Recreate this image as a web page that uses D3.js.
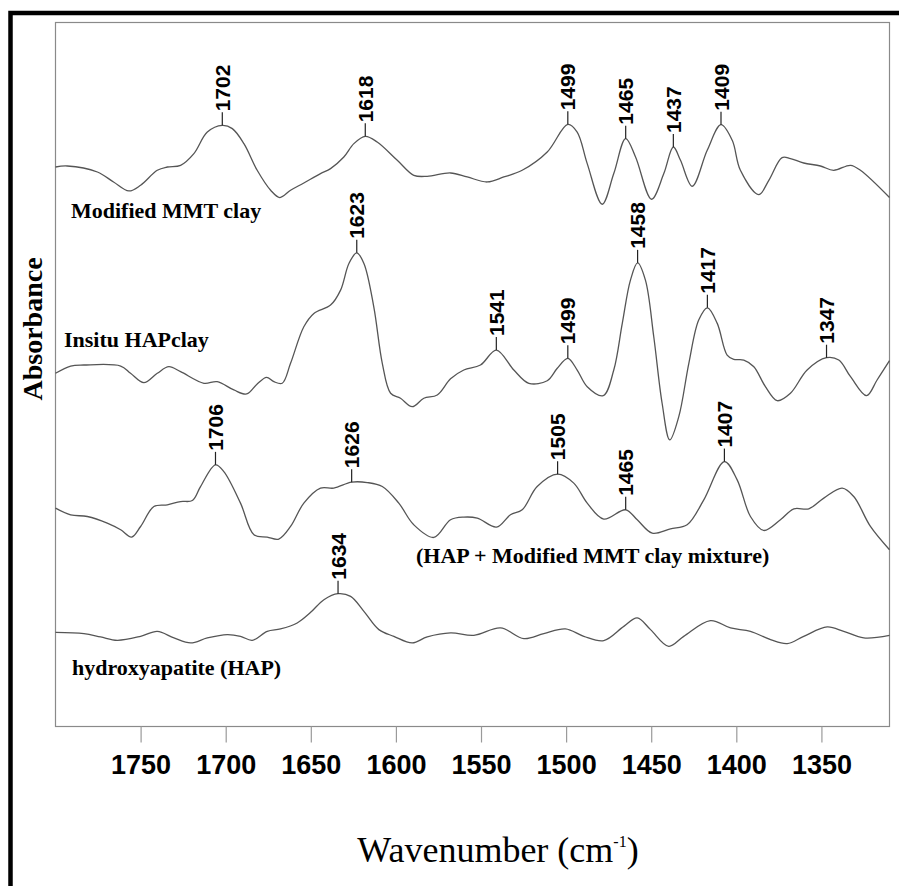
<!DOCTYPE html>
<html>
<head>
<meta charset="utf-8">
<script src="https://cdn.jsdelivr.net/npm/d3@7"></script>
<style>
  html, body { margin: 0; padding: 0; background: #fff; }
  svg { display: block; }
</style>
</head>
<body>
<svg id="chart" width="899" height="886"></svg>
<script>
// FTIR spectra (1800–1310 cm-1), stacked with vertical offsets, absorbance in arbitrary units.
// Each series: [wavenumber, absorbance]
const modifiedMMT = [
  [1800, 5.603], [1793.1, 5.613], [1775.4, 5.553], [1765.9, 5.453], [1756.9, 5.363], [1750, 5.42],
  [1740.2, 5.57], [1734.3, 5.603], [1726.5, 5.62], [1718.7, 5.737], [1710.8, 5.953], [1702, 6.02],
  [1696.1, 5.987], [1689.3, 5.837], [1681.5, 5.57], [1673.6, 5.37], [1668.2, 5.297], [1661.9, 5.37],
  [1654.1, 5.443], [1644.3, 5.537], [1638.4, 5.587], [1630.6, 5.703], [1624.7, 5.837], [1618, 5.91],
  [1611.0, 5.853], [1599.2, 5.67], [1589.5, 5.52], [1581.6, 5.51], [1567.9, 5.543], [1558.1, 5.503],
  [1546.3, 5.453], [1536.6, 5.503], [1525.8, 5.57], [1511.1, 5.753], [1499, 6.03], [1493.5, 5.953],
  [1487.6, 5.637], [1478.8, 5.23], [1472.0, 5.537], [1465, 5.887], [1459.2, 5.703], [1449.8, 5.28],
  [1442.6, 5.537], [1437, 5.803], [1432.8, 5.67], [1425.9, 5.41], [1417.1, 5.77], [1409, 6.027],
  [1402.4, 5.87], [1397.6, 5.57], [1386.8, 5.327], [1380.9, 5.47], [1373.1, 5.697], [1368.2, 5.687],
  [1360.4, 5.643], [1350.6, 5.613], [1342.8, 5.57], [1332.9, 5.62], [1327.1, 5.57], [1310, 5.297]
];
const insituHAPclay = [
  [1800, 3.537], [1791.1, 3.61], [1783.3, 3.62], [1761.7, 3.61], [1755.9, 3.537], [1748.1, 3.443],
  [1740.2, 3.537], [1733.4, 3.603], [1726.5, 3.553], [1712.8, 3.437], [1705.0, 3.453], [1695.2, 3.37],
  [1687.7, 3.33], [1681.5, 3.43], [1676.0, 3.497], [1671.7, 3.453], [1666.8, 3.437], [1661.9, 3.637],
  [1654.1, 4.003], [1648.2, 4.137], [1638.4, 4.22], [1632.5, 4.37], [1627.6, 4.637], [1623, 4.743],
  [1618.8, 4.637], [1613.0, 4.203], [1608.0, 3.637], [1603.1, 3.337], [1597.3, 3.287], [1590.4, 3.203],
  [1583.6, 3.287], [1575.7, 3.32], [1567.9, 3.482], [1560.1, 3.57], [1550.3, 3.62], [1541, 3.77],
  [1530.7, 3.57], [1521.9, 3.437], [1511.1, 3.463], [1505.2, 3.587], [1499, 3.687], [1493.5, 3.57],
  [1487.6, 3.403], [1478.2, 3.313], [1472.0, 3.57], [1467.0, 4.037], [1462.2, 4.47], [1458, 4.643],
  [1453.4, 4.47], [1448.5, 3.903], [1443.6, 3.237], [1439.1, 2.87], [1433.8, 3.103], [1427.9, 3.637],
  [1422.1, 4.07], [1417, 4.193], [1411.2, 4.037], [1405.4, 3.72], [1401.5, 3.677], [1395.6, 3.67],
  [1389.7, 3.603], [1382.9, 3.403], [1376.0, 3.263], [1368.2, 3.337], [1358.4, 3.57], [1347, 3.693],
  [1339.8, 3.67], [1332.9, 3.503], [1323.5, 3.313], [1317.3, 3.47], [1310, 3.663]
];
const hapMMTmixture = [
  [1800, 2.187], [1791.1, 2.12], [1781.3, 2.103], [1769.6, 2.037], [1761.7, 1.97], [1755.3, 1.897],
  [1750, 2.003], [1742.2, 2.203], [1734.3, 2.22], [1726.5, 2.253], [1719.6, 2.263], [1714.8, 2.403],
  [1706, 2.62], [1701.1, 2.553], [1691.3, 2.237], [1683.4, 1.92], [1675.6, 1.897], [1668.8, 1.877],
  [1661.9, 2.003], [1654.1, 2.237], [1644.3, 2.387], [1636.5, 2.387], [1626, 2.447], [1616.8, 2.443],
  [1608.0, 2.403], [1598.3, 2.237], [1589.5, 2.02], [1577.7, 1.893], [1567.9, 2.07], [1560.1, 2.097],
  [1552.2, 2.087], [1540.9, 1.997], [1532.7, 2.12], [1525.8, 2.17], [1517.0, 2.403], [1505, 2.527],
  [1495.5, 2.437], [1487.6, 2.237], [1477.9, 2.077], [1465, 2.17], [1458.2, 2.07], [1449.4, 1.937],
  [1438.7, 1.98], [1428.9, 2.02], [1419.1, 2.27], [1407, 2.653], [1399.5, 2.47], [1391.7, 2.103],
  [1383.9, 1.963], [1374.1, 2.07], [1366.2, 2.18], [1357.4, 2.18], [1348.6, 2.287], [1337.8, 2.387],
  [1331.0, 2.303], [1321.2, 2.003], [1310, 1.77]
];
const hydroxyapatite = [
  [1800, 0.943], [1783.3, 0.93], [1773.5, 0.897], [1763.7, 0.863], [1750, 0.903], [1740.2, 0.953],
  [1730.4, 0.887], [1720.6, 0.837], [1710.8, 0.887], [1699.1, 0.92], [1691.3, 0.903], [1684.4, 0.863],
  [1675.6, 0.953], [1667.8, 0.977], [1658.0, 1.037], [1650.1, 1.143], [1642.3, 1.27], [1634, 1.33],
  [1626.6, 1.303], [1618.8, 1.153], [1610.0, 0.97], [1601.2, 0.903], [1590.4, 0.837], [1581.6, 0.897],
  [1567.9, 0.937], [1554.2, 0.913], [1538.5, 0.987], [1524.8, 0.88], [1513.1, 0.93], [1500.4, 0.977],
  [1489.6, 0.903], [1477.9, 0.86], [1466.1, 1.003], [1458.2, 1.087], [1450.4, 0.97], [1439.7, 0.803],
  [1430.9, 0.903], [1415.2, 1.06], [1403.4, 0.987], [1391.7, 0.953], [1379.9, 0.87], [1370.1, 0.83],
  [1360.4, 0.903], [1346.6, 0.997], [1336.9, 0.953], [1325.1, 0.887], [1310, 0.913]
];

const seriesData = [modifiedMMT, insituHAPclay, hapMMTmixture, hydroxyapatite];
const seriesNames = ["Modified MMT clay", "Insitu HAPclay", "(HAP + Modified MMT clay mixture)", "hydroxyapatite (HAP)"];

// Marked band positions per series (cm-1)
const peaksMMT = [1702, 1618, 1499, 1465, 1437, 1409];
const peaksInsitu = [1623, 1541, 1499, 1458, 1417, 1347];
const peaksMixture = [1706, 1626, 1505, 1465, 1407];
const peaksHAP = [1634];
const seriesPeaks = [peaksMMT, peaksInsitu, peaksMixture, peaksHAP];

const xTicks = [1750, 1700, 1650, 1600, 1550, 1500, 1450, 1400, 1350];
const xDomain = [1800, 1310];
const yDomain = [0, 7.05];

// Layout
const plot = { left: 55.5, top: 22.5, right: 889.5, bottom: 726.5 };
const labelPos = [
  { x: 71, y: 218 },
  { x: 64, y: 347 },
  { x: 416, y: 563 },
  { x: 72, y: 675 }
];

const svg = d3.select("#chart");

// outer black frame (runs past the right and bottom edges)
svg.append("rect")
  .attr("x", 10.5).attr("y", 13)
  .attr("width", 1000).attr("height", 1000)
  .attr("fill", "none").attr("stroke", "#000").attr("stroke-width", 4.5);

const x = d3.scaleLinear().domain(xDomain).range([plot.left, plot.right]);
const y = d3.scaleLinear().domain(yDomain).range([plot.bottom, plot.top]);

// plot frame
svg.append("rect")
  .attr("x", plot.left).attr("y", plot.top)
  .attr("width", plot.right - plot.left).attr("height", plot.bottom - plot.top)
  .attr("fill", "none").attr("stroke", "#8a8a8a").attr("stroke-width", 1.2);

// x axis
const xAxis = d3.axisBottom(x).tickValues(xTicks).tickSize(16).tickPadding(12).tickFormat(d3.format("d"));
const gx = svg.append("g").attr("transform", `translate(0,${plot.bottom})`).call(xAxis);
gx.select(".domain").remove();
gx.selectAll(".tick line").attr("stroke", "#9a9a9a").attr("stroke-width", 1.2);
gx.selectAll(".tick text")
  .attr("font-family", "'Liberation Sans', Arial, sans-serif")
  .attr("font-weight", "bold").attr("font-size", 27).attr("fill", "#000");

// axis titles
const xt = svg.append("text")
  .attr("x", 498).attr("y", 862)
  .attr("text-anchor", "middle")
  .attr("font-family", "'Liberation Serif', 'Times New Roman', serif")
  .attr("font-size", 36).attr("fill", "#000");
xt.append("tspan").text("Wavenumber (cm");
xt.append("tspan").attr("dy", -15).attr("font-size", 16).text("-1");
xt.append("tspan").attr("dy", 15).text(")");

svg.append("text")
  .attr("transform", "translate(42,329) rotate(-90)")
  .attr("text-anchor", "middle")
  .attr("font-family", "'Liberation Serif', 'Times New Roman', serif")
  .attr("font-weight", "bold").attr("font-size", 28).attr("fill", "#000")
  .text("Absorbance");

// spectra
const line = d3.line()
  .x(d => x(d[0]))
  .y(d => y(d[1]))
  .curve(d3.curveCatmullRom.alpha(0.5));

svg.append("g").selectAll("path")
  .data(seriesData)
  .join("path")
  .attr("d", line)
  .attr("fill", "none")
  .attr("stroke", "#555")
  .attr("stroke-width", 1.3);

// series names
svg.append("g").selectAll("text")
  .data(seriesNames)
  .join("text")
  .attr("x", (d, i) => labelPos[i].x)
  .attr("y", (d, i) => labelPos[i].y)
  .attr("font-family", "'Liberation Serif', 'Times New Roman', serif")
  .attr("font-weight", "bold").attr("font-size", 22).attr("fill", "#000")
  .text(d => d);

// band markers
const markers = [];
seriesPeaks.forEach((peaks, i) => {
  peaks.forEach(p => {
    const pt = seriesData[i].find(d => d[0] === p);
    markers.push({ w: p, v: pt[1] });
  });
});
const mg = svg.append("g").selectAll("g")
  .data(markers)
  .join("g")
  .attr("transform", d => `translate(${x(d.w)},${y(d.v)})`);
mg.append("line")
  .attr("x1", 0).attr("x2", 0).attr("y1", 0).attr("y2", -13)
  .attr("stroke", "#222").attr("stroke-width", 1.2);
mg.append("text")
  .attr("transform", "translate(0,-14) rotate(-90)")
  .attr("dy", "0.36em")
  .attr("font-family", "'Liberation Sans', Arial, sans-serif")
  .attr("font-weight", "bold").attr("font-size", 21).attr("fill", "#000")
  .text(d => d.w);
</script>
</body>
</html>
